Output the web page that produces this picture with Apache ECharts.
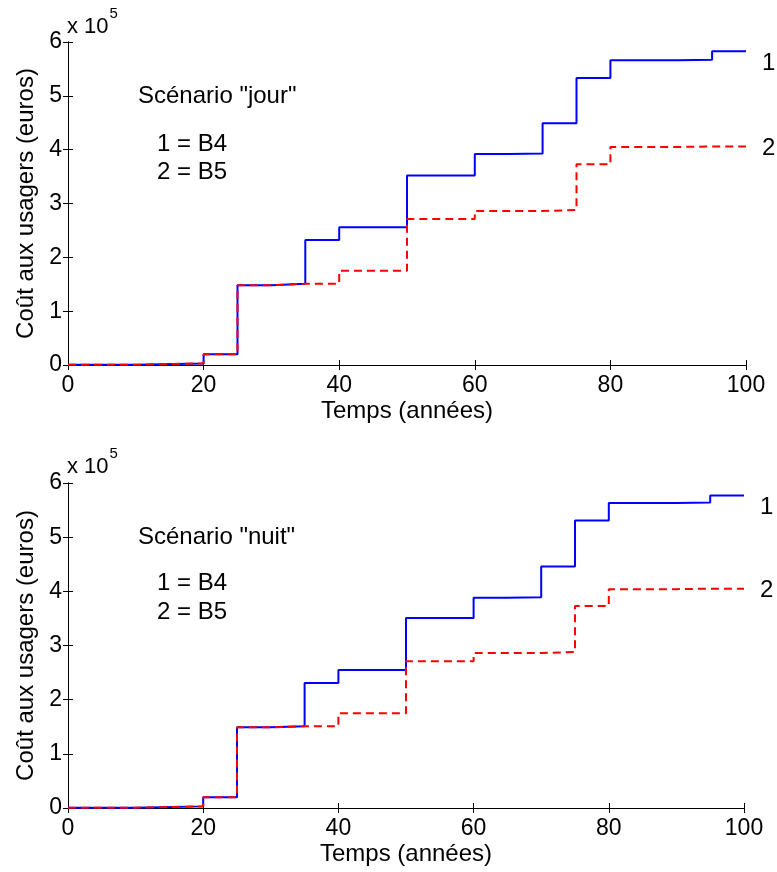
<!DOCTYPE html>
<html>
<head>
<meta charset="utf-8">
<script src="https://cdn.jsdelivr.net/npm/echarts@6/dist/echarts.min.js"></script>
<style>html,body{margin:0;padding:0;background:#fff;}#c{width:777px;height:872px;}</style>
</head>
<body>
<div id="c"></div>
<script>
// Step start years (value holds from this year to the next)
const years = [0, 10, 20, 25, 30, 35, 40, 50, 60, 65, 70, 75, 80, 90, 95, 100];
// Scénario "jour" (x 10^5 euros)
const jourB4 = [0.005, 0.03, 0.2, 1.48, 1.51, 2.32, 2.56, 3.52, 3.92, 3.93, 4.49, 5.33, 5.66, 5.67, 5.83, 5.83];
const jourB5 = [0.005, 0.03, 0.2, 1.48, 1.51, 1.51, 1.75, 2.71, 2.86, 2.86, 2.88, 3.73, 4.05, 4.06, 4.06, 4.06];
// Scénario "nuit" (x 10^5 euros)
const nuitB4 = [0.005, 0.03, 0.2, 1.49, 1.51, 2.31, 2.55, 3.51, 3.88, 3.89, 4.46, 5.31, 5.63, 5.64, 5.77, 5.77];
const nuitB5 = [0.005, 0.03, 0.2, 1.49, 1.51, 1.51, 1.75, 2.71, 2.86, 2.86, 2.88, 3.73, 4.04, 4.05, 4.05, 4.05];
const xTicks = [0, 20, 40, 60, 80, 100];
const yTicks = [0, 1, 2, 3, 4, 5, 6];
const titles = ['Scénario "jour"', 'Scénario "nuit"'];
const legendLines = ['1 = B4', '2 = B5'];
const xName = 'Temps (années)';
const yName = 'Coût aux usagers (euros)';

const FONT = '"Liberation Sans", Arial, Helvetica, sans-serif';
const chart = echarts.init(document.getElementById('c'), null, {renderer: 'canvas'});

const pairs = (ys) => years.map((x, i) => [x, ys[i]]);

const grids = [
  {left: 68, right: 31, top: 42, height: 323},
  {left: 68, right: 33, top: 483, height: 325}
];

const xAxes = [], yAxes = [], series = [];
grids.forEach((g, gi) => {
  const common = {
    type: 'value', min: xTicks[0], max: xTicks[xTicks.length - 1], interval: 20, gridIndex: gi,
    axisLine: {show: true, lineStyle: {color: '#000', width: 1}},
    axisTick: {show: true, inside: true, length: 5, lineStyle: {color: '#000'}},
    splitLine: {show: false}
  };
  xAxes.push(Object.assign({}, common, {
    position: 'bottom',
    name: xName, nameLocation: 'middle', nameGap: 34,
    nameTextStyle: {fontFamily: FONT, fontSize: 24, color: '#000'},
    axisLabel: {fontFamily: FONT, fontSize: 23, color: '#000', margin: 9}
  }));
  xAxes.push(Object.assign({}, common, {position: 'top', axisLabel: {show: false}}));
  const ycommon = {
    type: 'value', min: yTicks[0], max: yTicks[yTicks.length - 1], interval: 1, gridIndex: gi,
    axisLine: {show: true, lineStyle: {color: '#000', width: 1}},
    axisTick: {show: true, inside: true, length: 5, lineStyle: {color: '#000'}},
    splitLine: {show: false}
  };
  yAxes.push(Object.assign({}, ycommon, {
    position: 'left',
    name: yName, nameLocation: 'middle', nameGap: 30, nameRotate: 90,
    nameTextStyle: {fontFamily: FONT, fontSize: 24, color: '#000'},
    axisLabel: {fontFamily: FONT, fontSize: 23, color: '#000', margin: 6}
  }));
  yAxes.push(Object.assign({}, ycommon, {position: 'right', axisLabel: {show: false}}));
});

const dataSets = [[jourB4, jourB5], [nuitB4, nuitB5]];
dataSets.forEach((ds, gi) => {
  series.push({
    type: 'line', step: 'end', xAxisIndex: gi * 2, yAxisIndex: gi * 2,
    data: pairs(ds[0]), symbol: 'none', silent: true, clip: false,
    lineStyle: {color: '#0000ff', width: 2},
    endLabel: {show: true, formatter: '1', fontFamily: FONT, fontSize: 24, color: '#000', distance: 16, offset: [0, 12]}
  });
  series.push({
    type: 'line', step: 'end', xAxisIndex: gi * 2, yAxisIndex: gi * 2,
    data: pairs(ds[1]), symbol: 'none', silent: true, clip: false,
    lineStyle: {color: '#ff0000', width: 2, type: [8, 5]},
    endLabel: {show: true, formatter: '2', fontFamily: FONT, fontSize: 24, color: '#000', distance: 16, offset: [0, 2]}
  });
});

const tStyle = {fontFamily: FONT, fontSize: 24, fill: '#000'};
const annot = [];
const topY = [[84, 132, 160], [525, 571, 600]];
const expY = [24, 464];
[0, 1].forEach(i => {
  annot.push({type: 'text', left: 138, top: topY[i][0], style: Object.assign({text: titles[i], verticalAlign: 'middle'}, tStyle)});
  annot.push({type: 'text', left: 157, top: topY[i][1], style: Object.assign({text: legendLines[0], verticalAlign: 'middle'}, tStyle)});
  annot.push({type: 'text', left: 157, top: topY[i][2], style: Object.assign({text: legendLines[1], verticalAlign: 'middle'}, tStyle)});
  annot.push({type: 'text', left: 67, top: expY[i] - 18, style: {
    text: '{a|x 10}{b|5}', fontFamily: FONT,
    rich: {a: {fontFamily: FONT, fontSize: 22, fill: '#000', color: '#000', verticalAlign: 'bottom', lineHeight: 32},
           b: {fontFamily: FONT, fontSize: 15, fill: '#000', color: '#000', verticalAlign: 'top', lineHeight: 32, padding: [0,0,14,1]}}
  }});
});

chart.setOption({
  animation: false,
  backgroundColor: '#fff',
  grid: grids,
  xAxis: xAxes,
  yAxis: yAxes,
  series: series,
  graphic: annot
});
</script>
</body>
</html>
